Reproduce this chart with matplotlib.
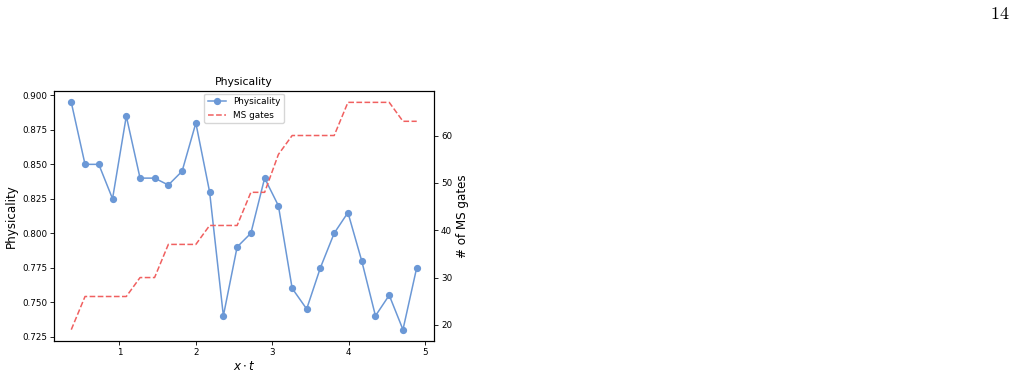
import numpy as np
import matplotlib
matplotlib.use('Agg')
import matplotlib.pyplot as plt

# x * t values
xt = [0.37, 0.55, 0.73, 0.91, 1.09, 1.27, 1.46, 1.64, 1.82, 2.00, 2.18, 2.36, 2.54,
      2.72, 2.90, 3.08, 3.26, 3.45, 3.63, 3.81, 3.99, 4.17, 4.35, 4.53, 4.71, 4.89]
physicality = [0.895, 0.850, 0.850, 0.825, 0.885, 0.840, 0.840, 0.835, 0.845, 0.880,
               0.830, 0.740, 0.790, 0.800, 0.840, 0.820, 0.760, 0.745, 0.775, 0.800,
               0.815, 0.780, 0.740, 0.755, 0.730, 0.775]
ms_gates = [19, 26, 26, 26, 26, 30, 30, 37, 37, 37, 41, 41, 41,
            48, 48, 56, 60, 60, 60, 60, 67, 67, 67, 67, 63, 63]

fig = plt.figure(figsize=(10.15, 3.75), dpi=100)
ax = fig.add_axes([54/1015, 1 - 341/375, 380/1015, 250/375])

l1, = ax.plot(xt, physicality, '-o', color='#6b98d6', lw=1.1, ms=4.2, label='Physicality')
ax.set_ylabel('Physicality', fontsize=8.6, labelpad=3)
ax.set_xlabel(r'$x \cdot t$', fontsize=8.6, labelpad=2)
ax.set_title('Physicality', fontsize=7.8, pad=4)
ax.tick_params(labelsize=6.3, length=2.8, width=0.6, pad=2.2)

ax2 = ax.twinx()
l2, = ax2.plot(xt, ms_gates, '--', color='#f06060', lw=1.1, label='MS gates')
ax2.set_ylabel('# of MS gates', fontsize=8.6, labelpad=3)
ax2.tick_params(labelsize=6.3, length=2.8, width=0.6, pad=2.2)

ax.legend(handles=[l1, l2], loc='upper center', fontsize=6.4, framealpha=0.8,
          borderpad=0.4, handlelength=2.0, borderaxespad=0.3)

fig.text(1000/1015, 1 - 14/375, r'$14$', math_fontfamily='cm', fontsize=13,
         ha='center', va='center')

fig.savefig('out.png', dpi=100)
